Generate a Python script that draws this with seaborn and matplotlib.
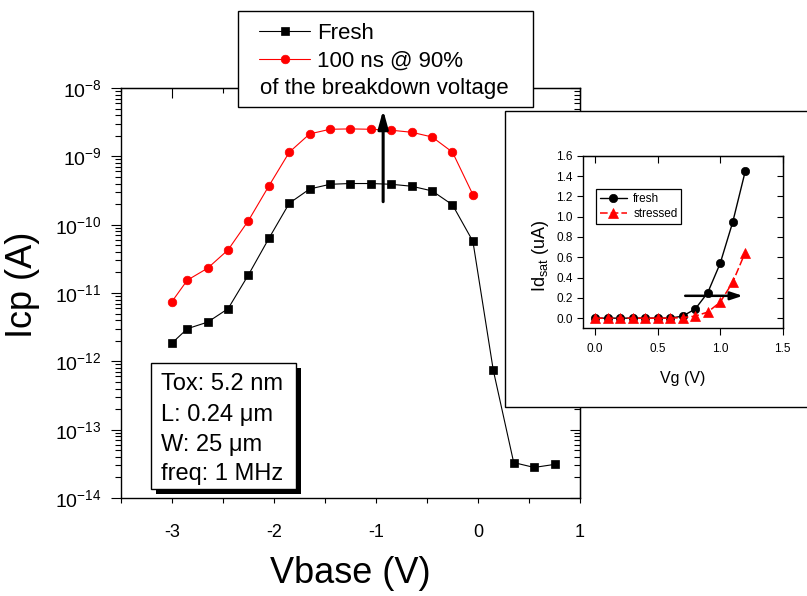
import matplotlib
matplotlib.use("Agg")
import matplotlib.pyplot as plt
import numpy as np
import pandas as pd
import seaborn as sns
from matplotlib.patches import Rectangle
from matplotlib.ticker import MultipleLocator, FixedLocator, LogLocator, NullFormatter, FormatStrFormatter

# ---------------- data ----------------
vbase_fresh = [-3.0, -2.85, -2.65, -2.45, -2.25, -2.05, -1.85, -1.65, -1.45, -1.25,
               -1.05, -0.85, -0.65, -0.45, -0.25, -0.05, 0.15, 0.35, 0.55, 0.75]
icp_fresh = [1.85e-12, 3.0e-12, 3.75e-12, 5.9e-12, 1.85e-11, 6.3e-11, 2.06e-10, 3.33e-10,
             3.9e-10, 4.0e-10, 4.0e-10, 3.9e-10, 3.65e-10, 3.12e-10, 1.95e-10, 5.7e-11,
             7.4e-13, 3.3e-14, 2.8e-14, 3.1e-14]
vbase_stress = [-3.0, -2.85, -2.65, -2.45, -2.25, -2.05, -1.85, -1.65, -1.45, -1.25,
                -1.05, -0.85, -0.65, -0.45, -0.25, -0.05]
icp_stress = [7.5e-12, 1.54e-11, 2.31e-11, 4.28e-11, 1.15e-10, 3.69e-10, 1.15e-9, 2.13e-9,
              2.49e-9, 2.52e-9, 2.49e-9, 2.41e-9, 2.25e-9, 1.92e-9, 1.15e-9, 2.75e-10]
main_labels = ["Fresh", "100 ns @ 90%"]
main_legend_extra = "of the breakdown voltage"
info_lines = ["Tox: 5.2 nm", "L: 0.24 \u03bcm", "W: 25 \u03bcm", "freq: 1 MHz"]
main_xticks = [-3, -2, -1, 0, 1]
main_arrow_x = -0.93
main_arrow_y = [2.17e-10, 4.76e-9]

vg = [0.0, 0.1, 0.2, 0.3, 0.4, 0.5, 0.6, 0.7, 0.8, 0.9, 1.0, 1.1, 1.2]
id_fresh = [0.0, 0.0, 0.0, 0.0, 0.0, 0.0, 0.0, 0.02, 0.09, 0.25, 0.54, 0.945, 1.445]
id_stress = [0.0, 0.0, 0.0, 0.0, 0.0, 0.0, 0.0, 0.005, 0.02, 0.06, 0.157, 0.354, 0.646]
inset_labels = ["fresh", "stressed"]
inset_xticks = [0.0, 0.5, 1.0, 1.5]
inset_yticks = [0.0, 0.2, 0.4, 0.6, 0.8, 1.0, 1.2, 1.4, 1.6]
inset_arrow_x = [0.72, 1.18]
inset_arrow_y = 0.22

# ---------------- style ----------------
sns.set_style("ticks", {"axes.edgecolor": "black", "xtick.color": "black",
                        "ytick.color": "black", "text.color": "black",
                        "axes.labelcolor": "black"})
plt.rcParams["font.family"] = ["Liberation Sans", "DejaVu Sans"]
plt.rcParams["mathtext.fontset"] = "custom"
plt.rcParams["mathtext.rm"] = "Liberation Sans"
plt.rcParams["mathtext.it"] = "Liberation Sans:italic"
plt.rcParams["mathtext.bf"] = "Liberation Sans:bold"
plt.rcParams["axes.unicode_minus"] = False

W, H = 807, 596
fig = plt.figure(figsize=(W / 100, H / 100), dpi=100)
fig.patch.set_facecolor("white")


def fx(px):
    return px / W


def fy(py):
    return 1 - py / H


# ---------------- main axes ----------------
ax = fig.add_axes([fx(121), fy(498), (580 - 121) / W, (498 - 88) / H])
ax.set_yscale("log")
df_f = pd.DataFrame({"Vbase": vbase_fresh, "Icp": icp_fresh})
df_s = pd.DataFrame({"Vbase": vbase_stress, "Icp": icp_stress})
sns.lineplot(data=df_f, x="Vbase", y="Icp", ax=ax, color="black", marker="s",
             markersize=5.8, markeredgecolor="black", markeredgewidth=0.5,
             linewidth=0.8, label=main_labels[0], legend=False)
line_f = ax.get_lines()[-1]
sns.lineplot(data=df_s, x="Vbase", y="Icp", ax=ax, color="red", marker="o",
             markersize=6.2, markeredgecolor="red", markeredgewidth=0.5,
             linewidth=0.8, label=main_labels[1], legend=False)
line_s = ax.get_lines()[-1]

ax.set_xlim(-3.5, 1.0)
ax.set_ylim(1e-14, 1e-8)
ax.xaxis.set_major_locator(FixedLocator(main_xticks))
ax.xaxis.set_minor_locator(MultipleLocator(0.5))
ax.xaxis.set_major_formatter(FormatStrFormatter("%d"))
ax.yaxis.set_major_locator(LogLocator(base=10, numticks=10))
ax.yaxis.set_minor_locator(LogLocator(base=10, subs=np.arange(2, 10), numticks=20))
ax.yaxis.set_minor_formatter(NullFormatter())
ax.tick_params(axis="x", which="both", direction="out", length=3.6, width=0.8,
               labelsize=13, pad=15)
ax.tick_params(axis="y", which="major", direction="out", length=7.5, width=0.8,
               labelsize=14, pad=6.5)
ax.tick_params(axis="y", which="minor", direction="out", length=4.3, width=0.8)
for sp in ax.spines.values():
    sp.set_linewidth(1.0)

ax.set_xlabel("Vbase (V)", fontsize=26)
ax.set_ylabel("Icp (A)", fontsize=26)
ax.xaxis.set_label_coords(0.5, (498 - 556) / 410)
ax.yaxis.set_label_coords((40 - 121) / 459, (498 - 285) / 410)

secx = ax.secondary_xaxis("top")
secx.xaxis.set_major_locator(FixedLocator(main_xticks))
secx.xaxis.set_minor_locator(MultipleLocator(0.5))
secx.tick_params(which="major", direction="in", length=7.5, width=0.8, labeltop=False)
secx.tick_params(which="minor", direction="in", length=3.6, width=0.8)
secy = ax.secondary_yaxis("right")
secy.tick_params(which="major", direction="in", length=7.5, width=0.8, labelright=False)
secy.tick_params(which="minor", direction="in", length=4.3, width=0.8)
secy.yaxis.set_minor_formatter(NullFormatter())

ax.annotate("", xy=(main_arrow_x, main_arrow_y[1]), xytext=(main_arrow_x, main_arrow_y[0]),
            arrowprops=dict(arrowstyle="-|>,head_length=0.9,head_width=0.25",
                            color="black", lw=2.2, shrinkA=0, shrinkB=0,
                            mutation_scale=12))

# ---------------- main legend box ----------------
fig.add_artist(Rectangle((fx(238), fy(107.3)), (532.7 - 238) / W, (107.3 - 11) / H,
                         transform=fig.transFigure, facecolor="white",
                         edgecolor="black", lw=1.0, zorder=2))
leg = fig.legend(handles=[line_f, line_s], labels=main_labels, loc="upper left",
                 bbox_to_anchor=(fx(259.3), fy(23)), frameon=False, fontsize=16,
                 handlelength=2.28, handletextpad=0.33, borderpad=0,
                 borderaxespad=0, labelspacing=0.3)
leg.set_zorder(6)
fig.text(fx(260), fy(94.3), main_legend_extra, fontsize=16, ha="left", va="baseline",
         zorder=6)

# ---------------- info box ----------------
fig.add_artist(Rectangle((fx(156), fy(494.3)), 145 / W, 126 / H,
                         transform=fig.transFigure, facecolor="black",
                         edgecolor="black", lw=0, zorder=2))
fig.add_artist(Rectangle((fx(151), fy(489.3)), 145 / W, 126 / H,
                         transform=fig.transFigure, facecolor="white",
                         edgecolor="black", lw=1.0, zorder=2.1))
for txt, base in zip(info_lines, [390, 421, 451, 480]):
    fig.text(fx(161), fy(base), txt, fontsize=17, ha="left", va="baseline", zorder=3)

# ---------------- inset ----------------
fig.add_artist(Rectangle((fx(505), fy(407)), (815 - 505) / W, (407 - 111) / H,
                         transform=fig.transFigure, facecolor="white",
                         edgecolor="black", lw=1.0, zorder=2))
ins = fig.add_axes([fx(582.7), fy(328.3), 200 / W, 172.6 / H], zorder=4)
ins.set_facecolor("white")
df_if = pd.DataFrame({"Vg": vg, "Id": id_fresh})
df_is = pd.DataFrame({"Vg": vg, "Id": id_stress})
sns.lineplot(data=df_if, x="Vg", y="Id", ax=ins, color="black", marker="o",
             markersize=6, markeredgecolor="black", markeredgewidth=0.5,
             linewidth=1.0, label=inset_labels[0], legend=False)
il_f = ins.get_lines()[-1]
sns.lineplot(data=df_is, x="Vg", y="Id", ax=ins, color="red", marker="^",
             markersize=6.5, markeredgecolor="red", markeredgewidth=0.5,
             linewidth=1.1, label=inset_labels[1], legend=False)
il_s = ins.get_lines()[-1]
il_s.set_linestyle((0, (5, 2)))

ins.set_xlim(-0.1, 1.5)
ins.set_ylim(-0.1, 1.6)
ins.xaxis.set_major_locator(FixedLocator(inset_xticks))
ins.yaxis.set_major_locator(FixedLocator(inset_yticks))
ins.xaxis.set_major_formatter(FormatStrFormatter("%.1f"))
ins.yaxis.set_major_formatter(FormatStrFormatter("%.1f"))
ins.tick_params(axis="x", direction="out", length=4.8, width=0.8, labelsize=8.5, pad=5.5)
ins.tick_params(axis="y", direction="out", length=4.3, width=0.8, labelsize=8.5, pad=3)
for sp in ins.spines.values():
    sp.set_linewidth(1.0)
ins.set_xlabel("Vg (V)", fontsize=11.5)
ins.set_ylabel(r"Id$_{\mathregular{sat}}$ (uA)", fontsize=13)
ins.xaxis.set_label_coords(0.5, (328.3 - 371) / 172.6)
ins.yaxis.set_label_coords((551 - 582.7) / 200, (328.3 - 256) / 172.6)

isx = ins.secondary_xaxis("top")
isx.xaxis.set_major_locator(FixedLocator(inset_xticks))
isx.tick_params(direction="in", length=4.8, width=0.8, labeltop=False)
isy = ins.secondary_yaxis("right")
isy.yaxis.set_major_locator(FixedLocator(inset_yticks))
isy.tick_params(direction="in", length=4.3, width=0.8, labelright=False)

ins.annotate("", xy=(inset_arrow_x[1], inset_arrow_y), xytext=(inset_arrow_x[0], inset_arrow_y),
             arrowprops=dict(arrowstyle="-|>,head_length=0.9,head_width=0.3",
                             color="black", lw=1.8, shrinkA=0, shrinkB=0,
                             mutation_scale=8))

ileg = ins.legend(handles=[il_f, il_s], labels=inset_labels, loc="upper left",
                  bbox_to_anchor=((596 - 582.7) / 200, (328.3 - 189.3) / 172.6),
                  borderaxespad=0, fontsize=8.5, handlelength=2.35, handletextpad=0.5,
                  labelspacing=0.3, borderpad=0.3, fancybox=False, framealpha=1,
                  edgecolor="black")
ileg.get_frame().set_linewidth(0.9)

fig.savefig("out.png", dpi=100, facecolor="white")
